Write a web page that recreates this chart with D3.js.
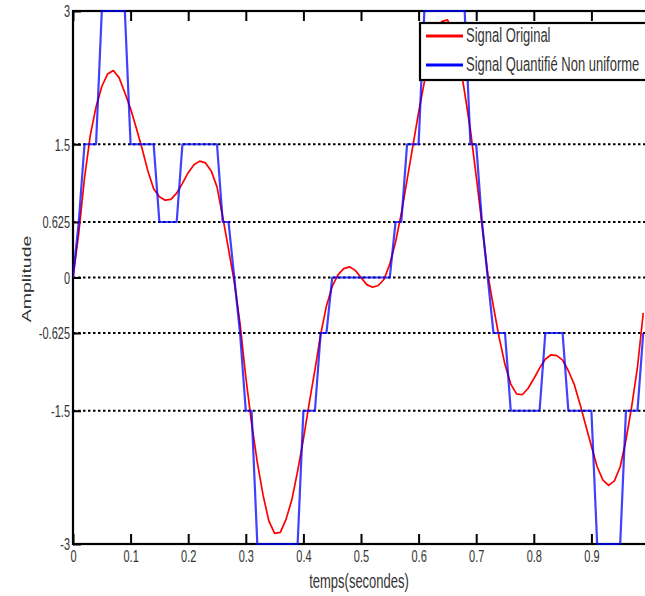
<!DOCTYPE html>
<html>
<head>
<meta charset="utf-8">
<script src="https://cdn.jsdelivr.net/npm/d3@7"></script>
<style>
  html, body { margin: 0; padding: 0; background: #ffffff; }
  svg { display: block; }
  text { font-family: "Liberation Sans", Arial, sans-serif; fill: #333; }
</style>
</head>
<body>
<svg id="chart" width="645" height="596"></svg>
<script>
// ---- data ----
const sampleStep = 0.01; // sampling period of both signals (s)
const signalOriginal = [
  0, 0.5, 1.12, 1.6, 1.92, 2.15, 2.29, 2.33, 2.25, 2.08,
  1.9, 1.68, 1.45, 1.2, 1.0, 0.91, 0.87, 0.88, 0.95, 1.06,
  1.18, 1.27, 1.31, 1.29, 1.2, 1.02, 0.68, 0.32, -0.05, -0.52,
  -1.12, -1.64, -2.08, -2.45, -2.74, -2.88, -2.87, -2.72, -2.5, -2.18,
  -1.82, -1.42, -1.04, -0.64, -0.32, -0.1, 0.03, 0.1, 0.12, 0.08,
  0.0, -0.08, -0.11, -0.09, -0.02, 0.15, 0.4, 0.72, 1.1, 1.48,
  1.86, 2.2, 2.52, 2.74, 2.88, 2.9, 2.78, 2.48, 2.08, 1.66,
  1.14, 0.6, 0.04, -0.33, -0.68, -0.98, -1.2, -1.31, -1.32, -1.25,
  -1.14, -1.02, -0.92, -0.87, -0.88, -0.93, -1.05, -1.2, -1.42, -1.66,
  -1.9, -2.13, -2.28, -2.34, -2.29, -2.13, -1.83, -1.45, -1.01, -0.4
];
const signalQuantifie = [
  0, 0.625, 1.5, 1.5, 1.5, 3, 3, 3, 3, 3,
  1.5, 1.5, 1.5, 1.5, 1.5, 0.625, 0.625, 0.625, 0.625, 1.5,
  1.5, 1.5, 1.5, 1.5, 1.5, 1.5, 0.625, 0.625, 0, -0.625,
  -1.5, -1.5, -3, -3, -3, -3, -3, -3, -3, -3,
  -1.5, -1.5, -1.5, -0.625, -0.625, 0, 0, 0, 0, 0,
  0, 0, 0, 0, 0, 0, 0.625, 0.625, 1.5, 1.5,
  1.5, 3, 3, 3, 3, 3, 3, 3, 3, 1.5,
  1.5, 0.625, 0, -0.625, -0.625, -0.625, -1.5, -1.5, -1.5, -1.5,
  -1.5, -1.5, -0.625, -0.625, -0.625, -0.625, -1.5, -1.5, -1.5, -1.5,
  -1.5, -3, -3, -3, -3, -3, -1.5, -1.5, -1.5, -0.625
];
const xTickValues = [0, 0.1, 0.2, 0.3, 0.4, 0.5, 0.6, 0.7, 0.8, 0.9];
const xTickLabels = ["0", "0.1", "0.2", "0.3", "0.4", "0.5", "0.6", "0.7", "0.8", "0.9"];
const yTickValues = [-3, -1.5, -0.625, 0, 0.625, 1.5, 3];
const yTickLabels = ["-3", "-1.5", "-0.625", "0", "0.625", "1.5", "3"];
const gridValues = [-1.5, -0.625, 0, 0.625, 1.5];
const seriesNames = ["Signal Original", "Signal Quantifié Non uniforme"];
const seriesColors = ["#ff0000", "#0000ff"];
const xLabel = "temps(secondes)";
const yLabel = "Amplitude";

// ---- layout ----
const pLeft = 73, pRight = 649, pTop = 11, pBottom = 544;
const svg = d3.select("#chart");
const x = d3.scaleLinear().domain([0, 1]).range([pLeft, pRight]);
const y = d3.scaleLinear().domain([-3, 3]).range([pBottom, pTop]);
const stretch = 1.5; // reference text is vertically stretched

svg.append("rect").attr("width", 645).attr("height", 596).attr("fill", "#fff");

svg.append("defs").append("clipPath").attr("id", "plotclip")
  .append("rect").attr("x", pLeft).attr("y", pTop - 3)
  .attr("width", pRight - pLeft).attr("height", pBottom - pTop + 6);

// grid
svg.append("g").selectAll("line").data(gridValues).join("line")
  .attr("x1", pLeft).attr("x2", pRight)
  .attr("y1", d => y(d)).attr("y2", d => y(d))
  .attr("stroke", "#000").attr("stroke-width", 2.2)
  .attr("stroke-dasharray", "2.5,2.5");

// axes
const gx = svg.append("g").attr("transform", `translate(0,${pBottom})`)
  .call(d3.axisBottom(x).tickValues(xTickValues).tickSize(-10).tickSizeOuter(0)
    .tickFormat((d, i) => xTickLabels[i]));
gx.select(".domain").remove();
gx.selectAll(".tick line").attr("stroke", "#000").attr("stroke-width", 2);
gx.selectAll(".tick text")
  .attr("y", null).attr("dy", null)
  .attr("dominant-baseline", "central")
  .attr("transform", `translate(0,12.5) scale(1,${stretch})`)
  .style("font-size", "11px").style("font-family", "Liberation Sans, Arial, sans-serif").attr("fill", "#333");

const gxt = svg.append("g").attr("transform", `translate(0,${pTop})`)
  .call(d3.axisTop(x).tickValues(xTickValues).tickSize(-10).tickSizeOuter(0).tickFormat(""));
gxt.select(".domain").remove();
gxt.selectAll(".tick line").attr("stroke", "#000").attr("stroke-width", 2);

const gy = svg.append("g").attr("transform", `translate(${pLeft},0)`)
  .call(d3.axisLeft(y).tickValues(yTickValues).tickSize(-8).tickSizeOuter(0)
    .tickFormat((d, i) => yTickLabels[i]));
gy.select(".domain").remove();
gy.selectAll(".tick line").attr("stroke", "#000").attr("stroke-width", 2);
gy.selectAll(".tick text")
  .attr("x", null).attr("dy", null)
  .attr("dominant-baseline", "central").attr("text-anchor", "end")
  .attr("transform", `translate(-3,0) scale(1,${stretch})`)
  .style("font-size", "11px").style("font-family", "Liberation Sans, Arial, sans-serif").attr("fill", "#333");

// frame
svg.append("rect").attr("x", pLeft).attr("y", pTop)
  .attr("width", pRight - pLeft).attr("height", pBottom - pTop)
  .attr("fill", "none").attr("stroke", "#000").attr("stroke-width", 2.2);

// series (drawn over the frame, as in the reference)
const pts = s => s.map((v, i) => [i * sampleStep, v]);
const line = d3.line().x(d => x(d[0])).y(d => y(d[1]));
const plot = svg.append("g").attr("clip-path", "url(#plotclip)");
plot.append("path").datum(pts(signalOriginal))
  .attr("d", line).attr("fill", "none")
  .attr("stroke", seriesColors[0]).attr("stroke-width", 1.7)
  .attr("stroke-linejoin", "round");
plot.append("path").datum(pts(signalQuantifie))
  .attr("d", line).attr("fill", "none")
  .attr("stroke", seriesColors[1]).attr("stroke-width", 2.2)
  .attr("stroke-opacity", 0.75).attr("stroke-linejoin", "round");

// labels
svg.append("text").text(xLabel)
  .attr("text-anchor", "middle").attr("dominant-baseline", "central")
  .attr("transform", `translate(359,582) scale(1,${stretch})`)
  .style("font-size", "13px");
svg.append("text").text(yLabel)
  .attr("text-anchor", "middle").attr("dominant-baseline", "central")
  .attr("transform", `translate(27,279) scale(1,${stretch}) rotate(-90)`)
  .style("font-size", "13px");

// legend
const lg = svg.append("g");
lg.append("rect").attr("x", 420).attr("y", 23).attr("width", 260).attr("height", 57)
  .attr("fill", "#fff").attr("stroke", "#000").attr("stroke-width", 2.2);
const rowsY = [36, 65];
seriesNames.forEach((name, i) => {
  lg.append("line").attr("x1", 426).attr("x2", 463)
    .attr("y1", rowsY[i]).attr("y2", rowsY[i])
    .attr("stroke", seriesColors[i]).attr("stroke-width", 3);
  lg.append("text").text(name)
    .attr("dominant-baseline", "central")
    .attr("transform", `translate(466,${rowsY[i]}) scale(1,${stretch})`)
    .style("font-size", "13px");
});
</script>
</body>
</html>
